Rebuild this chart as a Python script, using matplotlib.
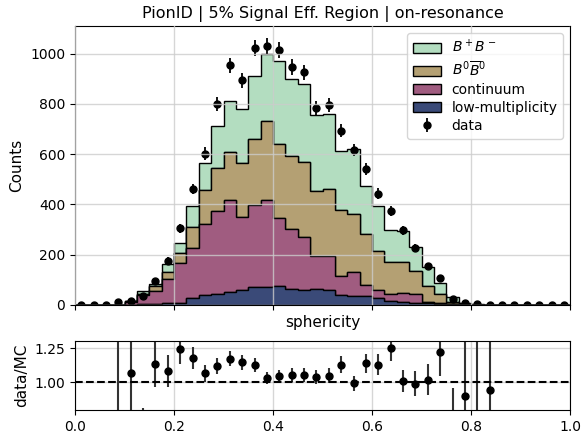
import numpy as np
import matplotlib
matplotlib.use("Agg")
import matplotlib.pyplot as plt
from matplotlib.patches import Patch

# ---- data ----
bin_edges = np.linspace(0.0, 1.0, 41)

low_mult = [0, 0, 0, 0, 0, 2, 3, 9, 9, 28,
            38, 44, 52, 60, 70, 70, 73, 64, 58, 63,
            60, 40, 37, 37, 29, 17, 13, 9, 7, 4,
            2, 0, 0, 0, 0, 0, 0, 0, 0, 0]
continuum = [0, 0, 0, 0.7, 12, 36, 54, 93, 157, 200,
             283, 330, 365, 290, 327, 347, 273, 237, 212, 130,
             135, 76, 94, 43, 31, 27, 36, 35, 6, 5,
             2, 1, 0, 0, 0, 0, 0, 0, 0, 0]
b0b0 = [0, 0, 0, 0.3, 2, 6, 16, 28, 40, 80,
        137, 170, 191, 214, 263, 314, 296, 290, 297, 260,
        268, 260, 229, 202, 156, 126, 121, 91, 60, 35,
        9, 2, 1, 0.3, 0, 0, 0, 0, 0, 0]
bpbm = [0, 0, 0, 0, 1, 10, 9, 32, 39, 84,
        106, 169, 204, 215, 249, 268, 327, 307, 312, 301,
        296, 237, 262, 192, 176, 129, 125, 95, 79, 42,
        20, 4.8, 1, 0.76, 0, 0, 0, 0, 0, 0]
data = [0, 0, 0, 10, 16, 36, 93, 176, 305, 461,
        602, 798, 953, 893, 1023, 1029, 1013, 946, 925, 784,
        796, 693, 617, 540, 443, 374, 297, 227, 155, 105,
        25, 7, 3, 1, 0, 0, 0, 0, 0, 0]

labels = ['low-multiplicity', 'continuum', r'$B^0\overline{B}^0$', r'$B^+B^-$']
colors = ['#3a4a78', '#a05c80', '#b4a073', '#b3ddc0']

title = 'PionID | 5% Signal Eff. Region | on-resonance'

# ---- derived ----
centers = 0.5 * (bin_edges[:-1] + bin_edges[1:])
comps = [np.array(c, float) for c in (low_mult, continuum, b0b0, bpbm)]
data = np.array(data, float)
mc = np.sum(comps, axis=0)

fig = plt.figure(figsize=(5.86, 4.33), dpi=100)
ax = fig.add_axes([0.128, 0.296, 0.845, 0.644])
rax = fig.add_axes([0.128, 0.053, 0.845, 0.1595])

ax.hist([centers] * 4, bins=bin_edges, weights=comps, stacked=True,
        histtype='stepfilled', color=colors, edgecolor='black',
        linewidth=1.0)
eb = ax.errorbar(centers, data, yerr=np.sqrt(data), fmt='o', color='black',
                 markersize=5, elinewidth=1.3)

ax.set_xlim(0, 1)
ax.set_ylim(0, 1110)
ax.set_xticks([0.0, 0.2, 0.4, 0.6, 0.8, 1.0])
ax.tick_params(axis='x', labelbottom=False)
ax.tick_params(labelsize=10)
ax.set_axisbelow(False)
ax.grid(True, color='#cccccc', linewidth=1.0, alpha=0.8)
ax.set_ylabel('Counts', fontsize=11)
ax.set_xlabel('sphericity', fontsize=11)
ax.set_title(title, fontsize=11.5)

handles = [Patch(facecolor=c, edgecolor='black', label=lab)
           for c, lab in zip(colors, labels)][::-1] + [eb]
leg_labels = labels[::-1] + ['data']
ax.legend(handles, leg_labels, loc='upper right', fontsize=10,
          labelspacing=0.3)

mask = (data > 0) & (mc > 0)
safe_mc = np.where(mc > 0, mc, 1)
safe_d = np.where(data > 0, data, 1)
ratio = data / safe_mc
rerr = ratio * np.sqrt(1 / safe_d + 1 / safe_mc)
rax.errorbar(centers[mask], ratio[mask], yerr=rerr[mask], fmt='o',
             color='black', ecolor='#333333', markersize=5, elinewidth=1.5)
rax.axhline(1.0, color='black', linestyle='--', linewidth=1.5)
rax.set_xlim(0, 1)
rax.set_ylim(0.794, 1.305)
rax.set_yticks([1.0, 1.25])
rax.set_xticks([0.0, 0.2, 0.4, 0.6, 0.8, 1.0])
rax.tick_params(labelsize=10)
rax.grid(True, color='#cccccc', linewidth=1.0, alpha=0.8)
rax.set_ylabel('data/MC', fontsize=11)

fig.savefig('out.png', dpi=100)
